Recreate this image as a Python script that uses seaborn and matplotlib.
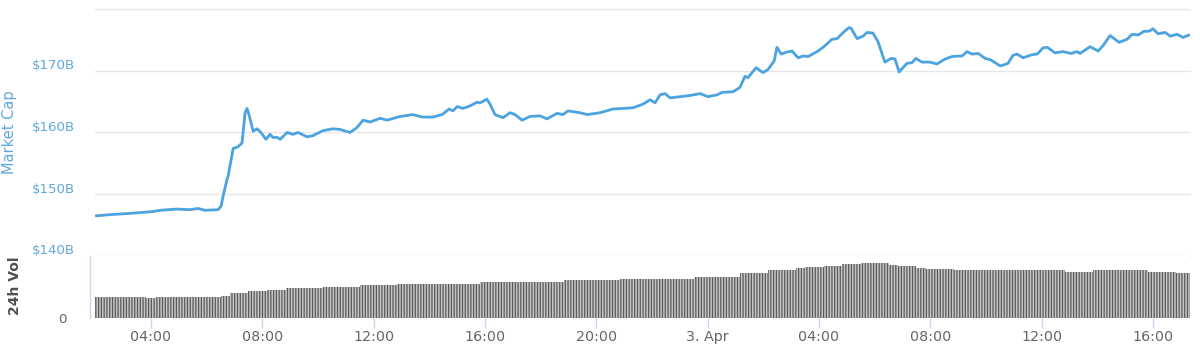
import numpy as np
import matplotlib
matplotlib.use("Agg")
import matplotlib.pyplot as plt
import seaborn as sns
from matplotlib.transforms import ScaledTranslation

# ---------------- data ----------------
# Market cap: hours since 2 Apr 00:00, values in $B
cap_hours = [
    2.02, 2.53, 3.25, 4.07, 4.32, 4.93, 5.40, 5.69, 5.94, 6.41,
    6.52, 6.59, 6.73, 6.77, 6.95, 7.13, 7.27, 7.38, 7.45, 7.52,
    7.67, 7.81, 7.95, 8.13, 8.28, 8.38, 8.53, 8.64, 8.89, 9.10,
    9.28, 9.61, 9.82, 10.18, 10.54, 10.79, 11.15, 11.40, 11.62, 11.87,
    12.23, 12.48, 12.95, 13.41, 13.74, 14.13, 14.46, 14.71, 14.85, 15.00,
    15.21, 15.46, 15.71, 15.82, 16.07, 16.18, 16.36, 16.65, 16.90, 17.08,
    17.33, 17.62, 17.98, 18.23, 18.59, 18.80, 18.98, 19.42, 19.67, 20.13,
    20.60, 21.32, 21.68, 21.93, 22.11, 22.29, 22.47, 22.65, 23.01, 23.37,
    23.73, 24.01, 24.34, 24.52, 24.91, 25.16, 25.34, 25.45, 25.74, 25.99,
    26.17, 26.39, 26.49, 26.64, 26.82, 27.03, 27.25, 27.43, 27.61, 27.93,
    28.15, 28.47, 28.65, 28.87, 29.08, 29.15, 29.37, 29.58, 29.73, 29.94,
    30.12, 30.37, 30.59, 30.73, 30.88, 31.16, 31.34, 31.48, 31.70, 31.99,
    32.24, 32.53, 32.78, 33.14, 33.32, 33.50, 33.72, 33.97, 34.15, 34.51,
    34.61, 34.79, 34.97, 35.12, 35.33, 35.66, 35.84, 36.05, 36.20, 36.48,
    36.77, 37.06, 37.27, 37.38, 37.74, 38.03, 38.21, 38.46, 38.78, 39.07,
    39.25, 39.47, 39.68, 39.86, 40.00, 40.18, 40.44, 40.62, 40.87, 41.08,
    41.30,
]
cap_values = [
    146.5, 146.7, 146.9, 147.2, 147.4, 147.6, 147.5, 147.7, 147.4, 147.5,
    148.1, 149.7, 152.4, 152.9, 157.4, 157.7, 158.3, 163.2, 163.9, 162.9,
    160.2, 160.6, 160.0, 158.9, 159.7, 159.2, 159.2, 158.9, 160.0, 159.7,
    160.0, 159.3, 159.5, 160.3, 160.6, 160.5, 160.0, 160.8, 162.0, 161.7,
    162.3, 162.0, 162.6, 162.9, 162.5, 162.5, 162.9, 163.8, 163.5, 164.2,
    163.9, 164.3, 164.9, 164.8, 165.4, 164.6, 162.9, 162.4, 163.2, 162.9,
    162.0, 162.6, 162.7, 162.2, 163.1, 162.9, 163.5, 163.2, 162.9, 163.2,
    163.8, 164.0, 164.6, 165.3, 164.8, 166.1, 166.3, 165.6, 165.8, 166.0,
    166.3, 165.8, 166.1, 166.5, 166.6, 167.3, 169.1, 168.9, 170.5, 169.7,
    170.2, 171.6, 173.8, 172.7, 173.0, 173.2, 172.1, 172.4, 172.3, 173.1,
    173.8, 175.1, 175.2, 176.2, 177.0, 176.9, 175.2, 175.6, 176.2, 176.1,
    174.7, 171.4, 172.0, 171.9, 169.8, 171.2, 171.3, 172.0, 171.4, 171.4,
    171.1, 171.9, 172.3, 172.4, 173.1, 172.7, 172.8, 172.0, 171.8, 170.8,
    170.9, 171.2, 172.5, 172.7, 172.1, 172.6, 172.7, 173.7, 173.8, 172.9,
    173.1, 172.8, 173.1, 172.8, 173.9, 173.2, 174.1, 175.7, 174.6, 175.1,
    175.9, 175.8, 176.4, 176.4, 176.8, 176.0, 176.2, 175.6, 175.9, 175.4,
    175.8,
]

# 24h volume, sampled every 20 minutes from 02:00 (relative units, axis 0-100)
vol_hours = np.arange(119) / 3 + 2.0
vol_values = [
    33.4, 33.4, 33.4, 33.4, 33.4, 33.4, 32.5, 33.4, 33.4, 33.4,
    33.4, 33.4, 33.4, 33.4, 35.5, 39.8, 39.8, 43.5, 43.5, 45.2,
    45.2, 47.9, 47.9, 47.9, 47.9, 50.0, 50.0, 50.0, 50.0, 52.7,
    52.7, 52.7, 52.7, 54.8, 54.8, 54.8, 54.8, 54.8, 54.8, 54.8,
    54.8, 54.8, 58.1, 58.1, 58.1, 58.1, 58.1, 58.1, 58.1, 58.1,
    58.1, 60.5, 60.5, 60.5, 60.5, 60.5, 60.5, 62.9, 62.9, 62.9,
    62.9, 62.9, 62.9, 62.9, 62.9, 66.1, 66.1, 66.1, 66.1, 66.1,
    71.8, 71.8, 71.8, 77.4, 77.4, 77.4, 80.2, 82.7, 82.7, 84.4,
    84.4, 86.6, 86.6, 88.2, 88.2, 88.2, 85.5, 83.9, 83.9, 81.1,
    79.0, 79.0, 79.0, 77.4, 77.4, 77.4, 77.4, 77.4, 77.4, 77.4,
    77.4, 77.4, 77.4, 77.4, 77.4, 74.7, 74.7, 74.7, 77.4, 77.4,
    77.4, 77.4, 77.4, 77.4, 74.7, 74.7, 74.7, 73.0, 73.0,
]

x_tick_hours = [4, 8, 12, 16, 20, 24, 28, 32, 36, 40]
x_tick_labels = ["04:00", "08:00", "12:00", "16:00", "20:00", "3. Apr",
                 "04:00", "08:00", "12:00", "16:00"]
cap_ticks = [140, 150, 160, 170, 180]
cap_tick_labels = ["$140B", "$150B", "$160B", "$170B", ""]

# ---------------- style ----------------
sns.set_theme(style="white")
plt.rcParams["font.family"] = ["DejaVu Sans"]
plt.rcParams["hatch.linewidth"] = 0.9

LINE = "#4ba3e0"
BLUE_TXT = "#62a8dc"
GRID = "#e6e6e6"
AXIS = "#ccd6eb"
GRAY_TXT = "#666666"

W, H = 1200, 353
fig = plt.figure(figsize=(W / 100, H / 100), dpi=100, facecolor="white")
L, R = 94.5 / W, 1190 / W
ax1 = fig.add_axes([L, 1 - 256 / H, R - L, 247 / H])
ax2 = fig.add_axes([L, 1 - 318 / H, R - L, 62 / H], sharex=ax1)

# market cap line
sns.lineplot(x=cap_hours, y=cap_values, ax=ax1, color=LINE, linewidth=2.0)
ax1.set_ylim(140, 180)
ax1.set_yticks(cap_ticks)
ax1.set_yticklabels(cap_tick_labels)
ax1.grid(axis="y", color=GRID, linewidth=1.0)
ax1.grid(axis="x", visible=False)
for gl in ax1.get_ygridlines():
    gl.set_clip_on(False)
for s in ax1.spines.values():
    s.set_visible(False)
ax1.tick_params(axis="y", length=0, pad=14, labelsize=9.6, labelcolor=BLUE_TXT)
ax1.tick_params(axis="x", bottom=False, labelbottom=False)
up = ScaledTranslation(0, 6.5 / 100, fig.dpi_scale_trans)
for lab in ax1.get_yticklabels():
    lab.set_transform(lab.get_transform() + up)
ax1.set_xlabel("")
ax1.set_ylabel("")

# volume bars
sns.barplot(x=vol_hours, y=vol_values, ax=ax2, native_scale=True, width=1.0,
            color="#c6c6c6", saturation=1, errorbar=None,
            edgecolor="#595959", linewidth=0, hatch="||||||")
ax2.set_ylim(0, 100)
ax2.set_yticks([0])
ax2.set_yticklabels(["0"])
ax2.tick_params(axis="y", length=0, pad=17, labelsize=9.6, labelcolor=GRAY_TXT)
up2 = ScaledTranslation(0, 9 / 100, fig.dpi_scale_trans)
for lab in ax2.get_yticklabels():
    lab.set_transform(lab.get_transform() + up2)
for side in ("top", "right", "bottom"):
    ax2.spines[side].set_visible(False)
ax2.spines["left"].set_color(AXIS)
ax2.spines["left"].set_linewidth(1.0)
ax2.spines["left"].set_position(("outward", 3))
ax2.grid(False)
ax2.set_xticks(x_tick_hours)
ax2.set_xticklabels(x_tick_labels)
ax2.tick_params(axis="x", bottom=True, length=7, width=1, color=AXIS, pad=1.5,
                labelsize=10.3, labelcolor=GRAY_TXT)
ax2.set_xlabel("")
ax2.set_ylabel("")
ax2.set_xlim(1.97, 41.33)

# axis titles
fig.text(10 / W, 1 - 132 / H, "Market Cap", rotation=90, ha="center", va="center",
         fontsize=10.5, color=BLUE_TXT)
fig.text(15 / W, 1 - 286 / H, "24h Vol", rotation=90, ha="center", va="center",
         fontsize=10, fontweight="bold", color="#505050")

fig.savefig("out.png", dpi=100, facecolor="white")
